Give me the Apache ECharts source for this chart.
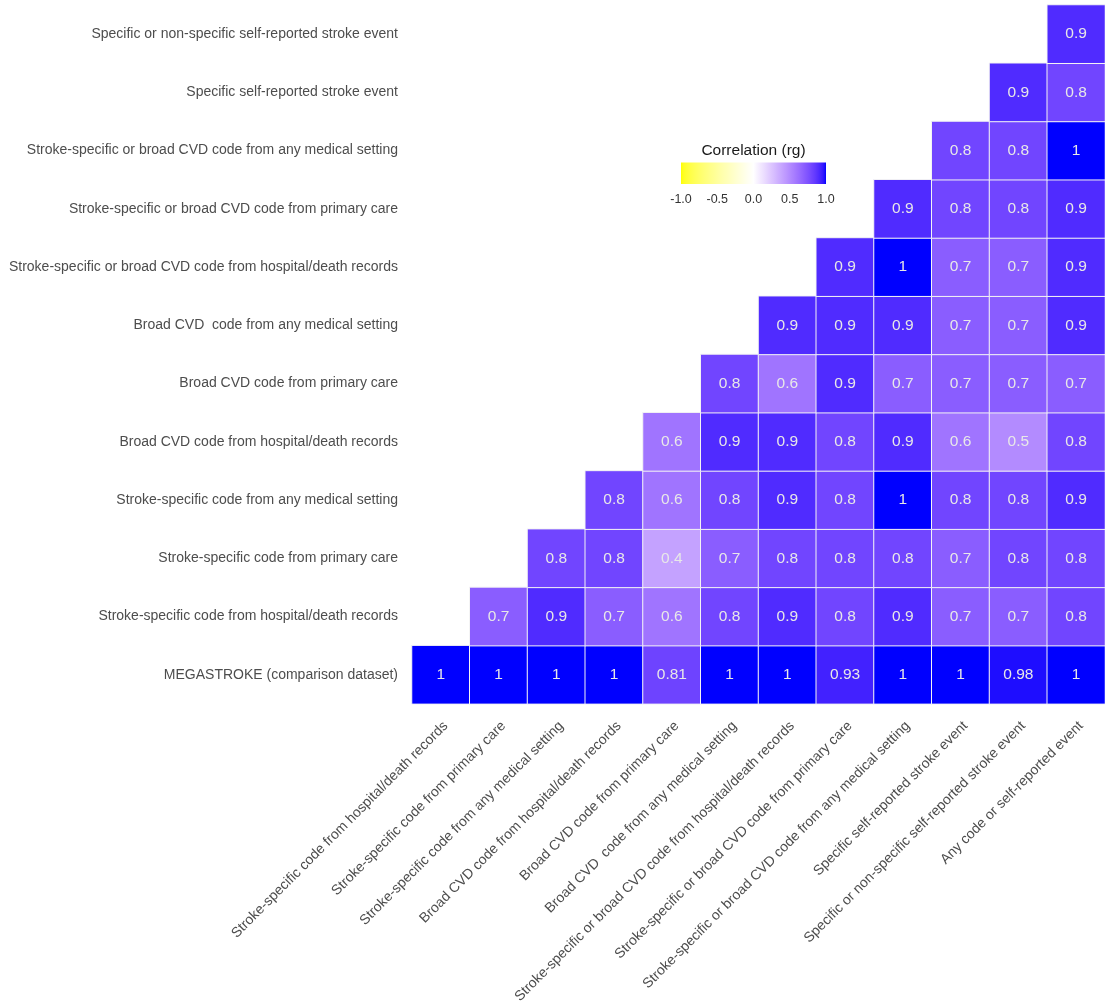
<!DOCTYPE html>
<html>
<head>
<meta charset="utf-8">
<script src="https://cdn.jsdelivr.net/npm/echarts@6/dist/echarts.min.js"></script>
<style>
html,body{margin:0;padding:0;background:#fff;}
#chart{width:1105px;height:1006px;}
</style>
</head>
<body>
<div id="chart"></div>
<script>
// ---------- DATA ----------
const xCategories = [
  'Stroke-specific code from hospital/death records',
  'Stroke-specific code from primary care',
  'Stroke-specific code from any medical setting',
  'Broad CVD code from hospital/death records',
  'Broad CVD code from primary care',
  'Broad CVD  code from any medical setting',
  'Stroke-specific or broad CVD code from hospital/death records',
  'Stroke-specific or broad CVD code from primary care',
  'Stroke-specific or broad CVD code from any medical setting',
  'Specific self-reported stroke event',
  'Specific or non-specific self-reported stroke event',
  'Any code or self-reported event'
];
const yCategories = [
  'MEGASTROKE (comparison dataset)',
  'Stroke-specific code from hospital/death records',
  'Stroke-specific code from primary care',
  'Stroke-specific code from any medical setting',
  'Broad CVD code from hospital/death records',
  'Broad CVD code from primary care',
  'Broad CVD  code from any medical setting',
  'Stroke-specific or broad CVD code from hospital/death records',
  'Stroke-specific or broad CVD code from primary care',
  'Stroke-specific or broad CVD code from any medical setting',
  'Specific self-reported stroke event',
  'Specific or non-specific self-reported stroke event'
];
// Row r (y index) starts at column r
const megastrokeRow = [1, 1, 1, 1, 0.81, 1, 1, 0.93, 1, 1, 0.98, 1];
const strokeHospRow = [0.7, 0.9, 0.7, 0.6, 0.8, 0.9, 0.8, 0.9, 0.7, 0.7, 0.8];
const strokePrimRow = [0.8, 0.8, 0.4, 0.7, 0.8, 0.8, 0.8, 0.7, 0.8, 0.8];
const strokeAnyRow  = [0.8, 0.6, 0.8, 0.9, 0.8, 1, 0.8, 0.8, 0.9];
const cvdHospRow    = [0.6, 0.9, 0.9, 0.8, 0.9, 0.6, 0.5, 0.8];
const cvdPrimRow    = [0.8, 0.6, 0.9, 0.7, 0.7, 0.7, 0.7];
const cvdAnyRow     = [0.9, 0.9, 0.9, 0.7, 0.7, 0.9];
const eitherHospRow = [0.9, 1, 0.7, 0.7, 0.9];
const eitherPrimRow = [0.9, 0.8, 0.8, 0.9];
const eitherAnyRow  = [0.8, 0.8, 1];
const selfSpecRow   = [0.9, 0.8];
const selfAnyRow    = [0.9];
const legendTicks = [-1, -0.5, 0, 0.5, 1];

const rows = [megastrokeRow, strokeHospRow, strokePrimRow, strokeAnyRow, cvdHospRow,
  cvdPrimRow, cvdAnyRow, eitherHospRow, eitherPrimRow, eitherAnyRow, selfSpecRow, selfAnyRow];
const heatData = [];
rows.forEach((vals, r) => {
  vals.forEach((v, k) => heatData.push([r + k, r, v]));
});

// ---------- Lab colour interpolation (like ggplot gradient2) ----------
function toLin(c){c/=255;return c<=0.04045?c/12.92:Math.pow((c+0.055)/1.055,2.4);}
function toS(v){v=Math.max(0,Math.min(1,v));const s=v<=0.0031308?12.92*v:1.055*Math.pow(v,1/2.4)-0.055;return Math.round(s*255);}
const XN=0.95047,YN=1,ZN=1.08883;
function fLab(t){return t>0.008856?Math.cbrt(t):7.787*t+16/116;}
function fInv(t){return t*t*t>0.008856?t*t*t:(t-16/116)/7.787;}
function rgb2lab(c){
  const R=toLin(c[0]),G=toLin(c[1]),B=toLin(c[2]);
  const X=(0.4124564*R+0.3575761*G+0.1804375*B)/XN;
  const Y=(0.2126729*R+0.7151522*G+0.0721750*B)/YN;
  const Z=(0.0193339*R+0.1191920*G+0.9503041*B)/ZN;
  const fx=fLab(X),fy=fLab(Y),fz=fLab(Z);
  return [116*fy-16,500*(fx-fy),200*(fy-fz)];
}
function lab2rgb(l){
  const fy=(l[0]+16)/116,fx=fy+l[1]/500,fz=fy-l[2]/200;
  const X=fInv(fx)*XN,Y=fInv(fy)*YN,Z=fInv(fz)*ZN;
  const R=3.2404542*X-1.5371385*Y-0.4985314*Z;
  const G=-0.9692660*X+1.8760108*Y+0.0415560*Z;
  const B=0.0556434*X-0.2040259*Y+1.0572252*Z;
  return 'rgb('+toS(R)+','+toS(G)+','+toS(B)+')';
}
const LOW=rgb2lab([255,255,0]),MID=rgb2lab([255,255,255]),HIGH=rgb2lab([0,0,255]);
function colorAt(v){
  const end=v<0?LOW:HIGH,t=Math.abs(v);
  return lab2rgb([0,1,2].map(i=>MID[i]+(end[i]-MID[i])*t));
}
const stops=[];
for(let i=0;i<=80;i++){stops.push(-1+i*0.025);}
const rangeColors=stops.map(colorAt);
const gradStops=stops.map(v=>({offset:(v+1)/2,color:colorAt(v)}));

const FONT='"Liberation Sans", Arial, sans-serif';
const chart=echarts.init(document.getElementById('chart'),null,{renderer:'canvas'});
chart.setOption({
  backgroundColor:'#ffffff',
  animation:false,
  textStyle:{fontFamily:FONT},
  grid:[
    {left:412,top:5,right:-7,bottom:301,containLabel:false},
    {left:681,top:162.5,width:145,height:21.5}
  ],
  xAxis:[
    {type:'category',gridIndex:0,data:xCategories,
     axisLine:{show:false},axisTick:{show:false},splitLine:{show:false},
     axisLabel:{interval:0,rotate:45,align:'right',verticalAlign:'top',margin:15,
       fontSize:14,color:'#4d4d4d',fontFamily:FONT}},
    {type:'value',gridIndex:1,min:legendTicks[0],max:legendTicks[legendTicks.length-1],
     interval:legendTicks[1]-legendTicks[0],
     axisLine:{show:false},splitLine:{show:false},
     axisTick:{show:true,inside:true,length:4,lineStyle:{color:'#ffffff',width:1}},
     axisLabel:{margin:9,fontSize:12.5,color:'#333333',fontFamily:FONT,
       formatter:v=>v.toFixed(1)}},
    {type:'value',gridIndex:1,position:'top',min:legendTicks[0],max:legendTicks[legendTicks.length-1],
     interval:legendTicks[1]-legendTicks[0],
     axisLine:{show:false},splitLine:{show:false},axisLabel:{show:false},
     axisTick:{show:true,inside:true,length:4,lineStyle:{color:'#ffffff',width:1}}}
  ],
  yAxis:[
    {type:'category',gridIndex:0,data:yCategories,
     axisLine:{show:false},axisTick:{show:false},splitLine:{show:false},
     axisLabel:{interval:0,margin:14,fontSize:14,color:'#4d4d4d',fontFamily:FONT}},
    {type:'value',gridIndex:1,min:0,max:1,show:false}
  ],
  visualMap:{type:'continuous',min:-1,max:1,show:false,seriesIndex:0,
    inRange:{color:rangeColors}},
  graphic:[
    {type:'text',x:753.5,y:151,z:10,
     style:{text:'Correlation (rg)',fill:'#1a1a1a',fontSize:15.5,fontFamily:FONT,
       textAlign:'center',textVerticalAlign:'middle'}}
  ],
  series:[
    {type:'heatmap',xAxisIndex:0,yAxisIndex:0,data:heatData,
     itemStyle:{borderColor:'#f4f4f4',borderWidth:1},
     label:{show:true,color:'#e8e8e8',fontSize:15.5,fontFamily:FONT,
       formatter:p=>String(p.value[2])},
     emphasis:{disabled:true}},
    {type:'custom',xAxisIndex:1,yAxisIndex:1,z:1,silent:true,
     data:[[legendTicks[0],0,legendTicks[legendTicks.length-1],1]],
     renderItem:function(params,api){
       const p0=api.coord([api.value(0),api.value(1)]);
       const p1=api.coord([api.value(2),api.value(3)]);
       return {type:'rect',shape:{x:p0[0],y:p1[1],width:p1[0]-p0[0],height:p0[1]-p1[1]},
         style:{fill:{type:'linear',x:0,y:0,x2:1,y2:0,colorStops:gradStops}}};
     }}
  ]
});
</script>
</body>
</html>
